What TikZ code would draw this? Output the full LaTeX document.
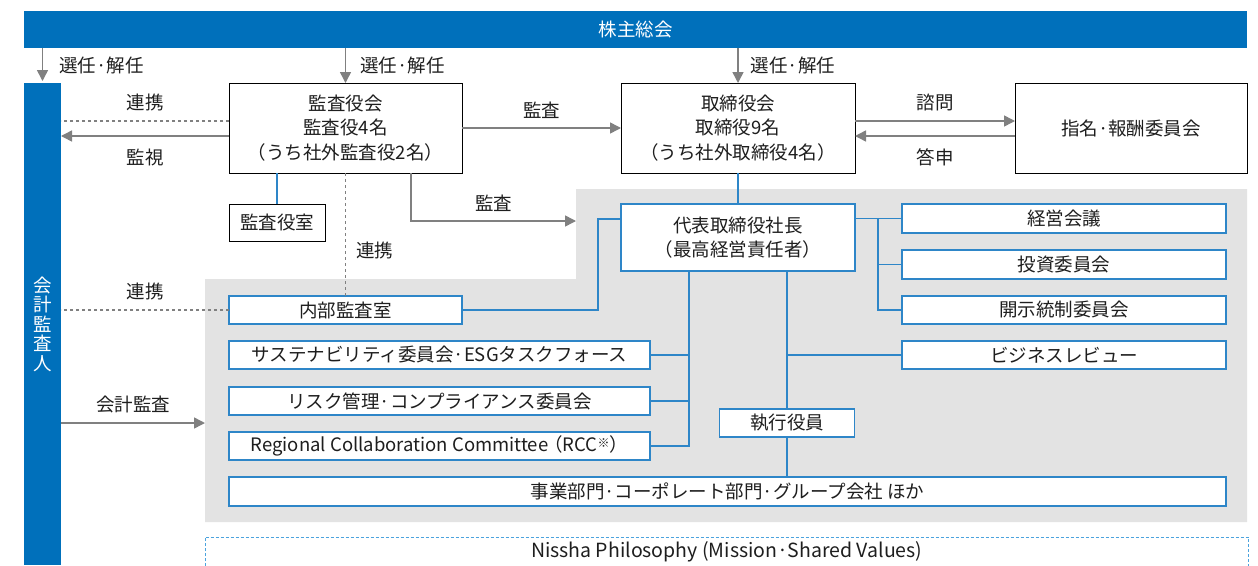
\documentclass[tikz,border=0pt]{standalone}
\usepackage{fontspec}
\setmainfont{Noto Sans CJK JP}
\usepackage{tikz}
\usetikzlibrary{arrows.meta, positioning, calc}
\usepackage{xcolor}
\definecolor{barblue}{RGB}{0,112,187}
\definecolor{lineblue}{RGB}{46,134,200}
\definecolor{dashblue}{RGB}{75,163,222}
\definecolor{arrowgray}{RGB}{128,128,128}
\definecolor{areagray}{RGB}{227,227,227}
\definecolor{textdark}{RGB}{30,30,30}

\tikzset{
  box/.style={draw=black, fill=white, line width=1pt, align=center, inner sep=0pt, outer sep=0pt, text=textdark, anchor=north west},
  bluebox/.style={box, draw=lineblue, line width=1.3pt},
  bar/.style={fill=barblue, text=white, inner sep=0pt, outer sep=0pt, anchor=north west},
  garrow/.style={arrowgray, line width=1.5pt, -{Triangle[length=11pt, width=11pt]}},
  gdash/.style={arrowgray, line width=1.3pt, dash pattern=on 3pt off 3pt},
  bline/.style={lineblue, line width=1.5pt},
  philodash/.style={dashblue, line width=1pt, dash pattern=on 3pt off 2pt},
  lbl/.style={text=textdark, inner sep=0pt},
}

\begin{document}
\begin{tikzpicture}[x=1pt, y=-1pt, font=\fontsize{18.5}{24.5}\selectfont]
  \useasboundingbox (0,0) rectangle (1258,565);

  % shaded area of the executive side
  \fill[areagray] (576,189) -- (1247,189) -- (1247,522) -- (205,522) -- (205,279) -- (576,279) -- cycle;

  % bars
  \node[bar, minimum width=1223pt, minimum height=37pt] (agm) at (24,11) {株主総会};
  \node[bar, minimum width=37pt, minimum height=482pt, align=center, font=\fontsize{18.5}{19.5}\selectfont] (accaud) at (24,83) {会\\計\\監\\査\\人};

  % boards
  \node[box, minimum width=233pt, minimum height=90pt] (kansayakukai) at (229,83) {監査役会\\監査役4名\\（うち社外監査役2名）};
  \node[box, minimum width=234pt, minimum height=90pt] (torikai) at (621,83) {取締役会\\取締役9名\\（うち社外取締役4名）};
  \node[box, minimum width=232pt, minimum height=90pt] (shimei) at (1015,83) {指名·報酬委員会};
  \node[box, minimum width=96pt, minimum height=37pt] (kansashitsu) at (229,204) {監査役室};

  % executive side
  \node[bluebox, minimum width=234pt, minimum height=67pt] (ceo) at (621,204) {代表取締役社長\\（最高経営責任者）};
  \node[bluebox, minimum width=233pt, minimum height=28pt] (naibu) at (229,296) {内部監査室};
  \node[bluebox, minimum width=421pt, minimum height=28pt] (sustain) at (229,341) {サステナビリティ委員会·ESGタスクフォース};
  \node[bluebox, minimum width=421pt, minimum height=28pt] (risk) at (229,387) {リスク管理·コンプライアンス委員会};
  \node[bluebox, minimum width=421pt, minimum height=28pt] (rcc) at (229,432) {Regional Collaboration Committee\kern-4pt（RCC\raisebox{4pt}{\fontsize{12}{12}\selectfont ※}）};
  \node[bluebox, minimum width=135pt, minimum height=28pt] (shikko) at (719.5,409) {執行役員};
  \node[bluebox, minimum width=997pt, minimum height=29pt] (jigyo) at (229,477) {事業部門·コーポレート部門·グループ会社 ほか};
  \node[bluebox, minimum width=324pt, minimum height=29pt] (keiei) at (902,204) {経営会議};
  \node[bluebox, minimum width=324pt, minimum height=29pt] (toshi) at (902,250) {投資委員会};
  \node[bluebox, minimum width=324pt, minimum height=28pt] (kaiji) at (902,296) {開示統制委員会};
  \node[bluebox, minimum width=324pt, minimum height=28pt] (bizrev) at (902,341) {ビジネスレビュー};

  \node[anchor=north west, inner sep=0pt, minimum width=1043pt, minimum height=29pt, text=textdark, font=\fontsize{19.5}{24}\selectfont] (philo) at (205,537) {Nissha Philosophy (Mission·Shared Values)};
  \draw[philodash] (philo.south west) -- (philo.north west) -- (philo.north east) -- (philo.south east);

  \coordinate (areatop) at (576,221);
  \coordinate (arealeft) at (205,423);

  % appointment arrows
  \draw[garrow, shorten >=2pt] (accaud.north |- agm.south) -- (accaud.north) node[midway, right=16pt, lbl] {選任·解任};
  \draw[garrow] (kansayakukai.north |- agm.south) -- (kansayakukai.north) node[midway, right=14pt, lbl] {選任·解任};
  \draw[garrow] (torikai.north |- agm.south) -- (torikai.north) node[midway, right=12pt, lbl] {選任·解任};

  % audit and advisory
  \draw[garrow] (kansayakukai.east) -- (torikai.west) node[midway, above=9pt, lbl] {監査};
  \draw[garrow] ([yshift=7pt]torikai.east) -- ([yshift=7pt]shimei.west) node[midway, above=9pt, lbl] {諮問};
  \draw[garrow] ([yshift=-8pt]shimei.west) -- ([yshift=-8pt]torikai.east) node[midway, below=12pt, lbl] {答申};
  \draw[gdash] ([yshift=7pt]kansayakukai.west) -- ([yshift=7pt]kansayakukai.west -| accaud.east) node[midway, above=9pt, lbl] {連携};
  \draw[garrow] ([yshift=-8pt]kansayakukai.west) -- ([yshift=-8pt]kansayakukai.west -| accaud.east) node[midway, below=12pt, lbl] {監視};
  \draw[gdash] (kansayakukai.south) -- (naibu.north) node[pos=0.63, right=10pt, lbl] {連携};
  \draw[garrow] ([xshift=65.5pt]kansayakukai.south) |- (areatop) node[pos=0.75, above=9pt, lbl] {監査};
  \draw[gdash] (naibu.west) -- (naibu.west -| accaud.east) node[midway, above=9pt, lbl] {連携};
  \draw[garrow] (accaud.east |- arealeft) -- (arealeft) node[midway, above=9pt, lbl] {会計監査};

  % organisation lines
  \draw[bline] (kansashitsu.north) -- (kansashitsu.north |- kansayakukai.south);
  \draw[bline] (torikai.south) -- (ceo.north);
  \draw[bline] (naibu.east) -| ([xshift=-23pt, yshift=18.5pt]ceo.west) -- ([yshift=18.5pt]ceo.west);
  \draw[bline] (ceo.east |- keiei.west) -- (keiei.west);
  \draw[bline] ([xshift=-24pt]keiei.west) |- (kaiji.west);
  \draw[bline] ([xshift=-24pt]toshi.west) -- (toshi.west);
  \coordinate (lbranch) at ([xshift=-49pt]ceo.south);
  \draw[bline] (lbranch) |- (rcc.east);
  \draw[bline] (sustain.east) -- (sustain.east -| lbranch);
  \draw[bline] (risk.east) -- (risk.east -| lbranch);
  \draw[bline] (shikko.north |- ceo.south) -- (shikko.north);
  \draw[bline] (shikko.south) -- (shikko.south |- jigyo.north);
  \draw[bline] (bizrev.west) -- (bizrev.west -| shikko.north);
\end{tikzpicture}
\end{document}
